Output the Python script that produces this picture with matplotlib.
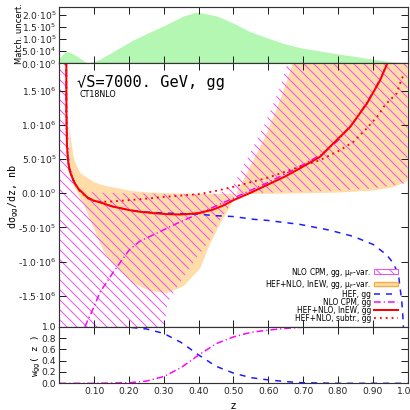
import matplotlib
matplotlib.use('Agg')
import matplotlib.pyplot as plt
from matplotlib.patches import Patch
from matplotlib.lines import Line2D

# ---- data ----
# top panel: matching uncertainty
z_match = [0.0, 0.01, 0.02, 0.03, 0.05, 0.07, 0.08, 0.1, 0.116, 0.15, 0.212, 0.26, 0.308,
           0.356, 0.39, 0.404, 0.452, 0.5, 0.547, 0.595, 0.643, 0.691, 0.787, 0.883, 0.95, 1.0]
match_unc = [2.1e4, 3.8e4, 4.8e4, 4.6e4, 3.0e4, 1.0e4, 0.0, 9e3, 1.7e4, 4.5e4, 9.7e4, 1.3e5, 1.62e5,
             1.97e5, 2.12e5, 2.11e5, 1.97e5, 1.67e5, 1.32e5, 1.07e5, 8.3e4, 6.5e4, 4.2e4, 2.1e4, 7e3, 0.0]

# NLO CPM mu_F variation (hatched band)
z_cpm_band = [0.0, 0.005, 0.01, 0.015, 0.02, 0.025, 0.03, 0.04, 0.06, 0.1, 0.2, 0.29, 0.3, 0.31,
              0.34, 0.4, 0.43, 0.46, 0.5, 0.547, 0.595, 0.634, 0.653, 0.7, 0.8, 0.9, 1.0]
cpm_band_1 = [8e6, 5e6, 3.5e6, 2.6e6, 1.9e6, 1.0e6, 5e5, 2e5, 6e4, 1e4, 0.0, -5e3, -1e4, -1e4,
              -1e4, -1e4, -1e4, 0.0, 1.2e5, 5.8e5, 1.07e6, 1.55e6, 1.87e6, 2.6e6, 4e6, 5.5e6, 7e6]
cpm_band_2 = [-5e6, -5e6, -5e6, -5e6, -5e6, -5e6, -5e6, -5e6, -5e6, -5e6, -4e6, -2.5e6, -2.0e6, -1.6e6,
              -1.35e6, -9e5, -7e5, -4e5, -1e5, 0.0, 1e4, 1.5e4, 2e4, 2.5e4, 4e4, 7e4, 1.5e5]

# HEF+NLO lnEW mu_F variation (orange band)
z_hef_band = [0.028, 0.03, 0.04, 0.045, 0.059, 0.073, 0.083, 0.097, 0.116, 0.131, 0.16, 0.212, 0.26,
              0.308, 0.356, 0.404, 0.432, 0.461, 0.49, 0.5, 0.509, 0.519, 0.557, 0.595, 0.634, 0.667,
              0.7, 0.8, 0.9, 0.96, 1.0]
hef_band_1 = [1.0e6, 9.0e5, 5.5e5, 4.6e5, 3.0e5, 2.5e5, 2.2e5, 1.7e5, 1.3e5, 1.1e5, 8e4, 3e4, 1e4,
              0.0, -5e3, -1e4, -1e4, -1e4, -1e4, -1e4, -1e4, -1e4, -1e4, -8e3, -5e3, -3e3,
              0.0, 1e4, 4e4, 9e4, 1.8e5]
hef_band_2 = [4.0e5, 2.9e5, 1.4e5, 8e4, -6e4, -2e5, -3.2e5, -4.9e5, -7.2e5, -8.8e5, -1.05e6, -1.31e6, -1.43e6,
              -1.46e6, -1.36e6, -1.1e6, -7.5e5, -4.5e5, -2e5, -9e4, 0.0, 1e5, 4.85e5, 8.7e5, 1.36e6, 1.85e6,
              2.4e6, 4e6, 6e6, 7e6, 8e6]

# HEF, gg
z_hef = [0.0195, 0.02, 0.0216, 0.025, 0.03, 0.04, 0.045, 0.055, 0.068, 0.08, 0.097, 0.116, 0.15, 0.2,
         0.236, 0.27, 0.303, 0.337, 0.37, 0.404, 0.442, 0.5, 0.557, 0.595, 0.691, 0.777, 0.844, 0.902,
         0.94, 0.959, 0.974, 0.978, 0.983, 0.986, 0.988, 0.99]
hef = [2.5e6, 1.2e6, 7.0e5, 4.6e5, 3.2e5, 1.9e5, 1.4e5, 6e4, 0.0, -6e4, -1.05e5, -1.3e5, -1.9e5, -2.45e5,
       -2.7e5, -2.8e5, -2.9e5, -2.95e5, -3.0e5, -3.06e5, -3.26e5, -3.4e5, -3.8e5, -3.95e5, -4.55e5, -5.4e5,
       -6.3e5, -7.5e5, -9e5, -1.02e6, -1.19e6, -1.36e6, -1.56e6, -1.75e6, -1.95e6, -2.1e6]

# NLO CPM, gg
z_cpm = [0.073, 0.1, 0.116, 0.155, 0.2, 0.231, 0.289, 0.346, 0.404, 0.452, 0.5, 0.6, 0.69, 0.75,
         0.8, 0.85, 0.883, 0.907, 0.926, 0.945]
cpm = [-1.95e6, -1.65e6, -1.45e6, -1.15e6, -8.3e5, -7e5, -5.6e5, -4.2e5, -2.9e5, -1.8e5, -7e4, 1.6e5,
       3.9e5, 5.6e5, 7.7e5, 1.07e6, 1.33e6, 1.53e6, 1.72e6, 1.95e6]

# HEF+NLO, lnEW, gg
z_lnew = [0.0195, 0.02, 0.0216, 0.025, 0.03, 0.04, 0.045, 0.055, 0.068, 0.08, 0.097, 0.116, 0.15, 0.2,
          0.231, 0.27, 0.308, 0.346, 0.38, 0.404, 0.44, 0.47, 0.5, 0.55, 0.6, 0.65, 0.691, 0.749, 0.787,
          0.835, 0.883, 0.921, 0.942, 0.95]
lnew = [2.5e6, 1.2e6, 7.0e5, 4.6e5, 3.2e5, 1.9e5, 1.4e5, 6e4, 0.0, -6e4, -1.05e5, -1.3e5, -1.9e5, -2.45e5,
        -2.7e5, -2.9e5, -3.05e5, -3.1e5, -3.0e5, -2.85e5, -2.4e5, -1.8e5, -1.0e5, 1e4, 1.3e5, 2.5e5, 3.65e5,
        5.35e5, 7.3e5, 9.7e5, 1.31e6, 1.65e6, 1.9e6, 2.05e6]

# HEF+NLO, subtr., gg
z_subtr = [0.0195, 0.02, 0.0216, 0.025, 0.03, 0.04, 0.045, 0.055, 0.068, 0.08, 0.097, 0.116, 0.15, 0.2,
           0.231, 0.308, 0.404, 0.452, 0.5, 0.6, 0.691, 0.749, 0.806, 0.844, 0.883, 0.916, 0.935, 0.969,
           0.978, 0.99]
subtr = [2.5e6, 1.2e6, 7.0e5, 4.6e5, 3.2e5, 1.9e5, 1.4e5, 5e4, -1e4, -7e4, -1.1e5, -1.25e5, -1.2e5, -1.0e5,
         -8.7e4, -5e4, -1e4, 3.8e4, 9.5e4, 2.3e5, 3.9e5, 4.85e5, 6.3e5, 7.5e5, 9.5e5, 1.14e6, 1.29e6, 1.46e6,
         1.6e6, 1.75e6]

# bottom panel: weights
z_w = [0.0, 0.1, 0.2, 0.25, 0.3, 0.35, 0.4, 0.45, 0.5, 0.55, 0.6, 0.65, 0.7, 0.8, 1.0]
w_hef = [1.0, 1.0, 0.99, 0.96, 0.88, 0.72, 0.5, 0.3, 0.18, 0.1, 0.06, 0.03, 0.01, 0.0, 0.0]
w_cpm = [0.0, 0.0, 0.01, 0.04, 0.12, 0.28, 0.5, 0.7, 0.82, 0.9, 0.94, 0.97, 0.99, 1.0, 1.0]

x_ticks = [0.1, 0.2, 0.3, 0.4, 0.5, 0.6, 0.7, 0.8, 0.9, 1.0]
x_ticklabels = ['0.10', '0.20', '0.30', '0.40', '0.50', '0.60', '0.70', '0.80', '0.90', '1.00']
top_ticks = [0, 5e4, 1e5, 1.5e5, 2e5]
top_ticklabels = ['0.0·10$^{0}$', '5.0·10$^{4}$', '1.0·10$^{5}$', '1.5·10$^{5}$', '2.0·10$^{5}$']
main_ticks = [-1.5e6, -1e6, -5e5, 0, 5e5, 1e6, 1.5e6]
main_ticklabels = ['-1.5·10$^{6}$', '-1.0·10$^{6}$', '-5.0·10$^{5}$', '0.0·10$^{0}$',
                   '5.0·10$^{5}$', '1.0·10$^{6}$', '1.5·10$^{6}$']
w_ticks = [0.0, 0.2, 0.4, 0.6, 0.8, 1.0]
w_ticklabels = ['0.0', '0.2', '0.4', '0.6', '0.8', '1.0']

HATCH = '\\' * 4
plt.rcParams['hatch.linewidth'] = 0.6
plt.rcParams['font.family'] = 'DejaVu Sans'

fig = plt.figure(figsize=(410 / 120, 410 / 120), dpi=120)
ax_top = fig.add_axes([0.145, 0.8456, 0.849, 0.1366])
ax = fig.add_axes([0.145, 0.2032, 0.849, 0.6424])
ax_w = fig.add_axes([0.145, 0.0651, 0.849, 0.1381])

def style(a):
    a.tick_params(direction='in', length=4.2, width=0.6, top=True, right=True,
                  labelsize=5.5, pad=2, colors='#222222')
    for s in a.spines.values():
        s.set_linewidth(0.7)
        s.set_color('#333333')
    a.set_xlim(0, 1)
    a.set_xticks(x_ticks)

blue_ls = (0, (4, 4))
mag_ls = (0, (4.5, 2, 0.8, 2))
dot_ls = (0, (1, 2.2))

# top panel
style(ax_top)
ax_top.fill_between(z_match, 0, match_unc, color='#b3f7b3', lw=0)
ax_top.set_ylim(0, 2.33e5)
ax_top.set_yticks(top_ticks)
ax_top.set_yticklabels(top_ticklabels)
ax_top.set_xticklabels([])

# main panel
style(ax)
ax.fill_between(z_hef_band, hef_band_1, hef_band_2, facecolor='#ffdca8', lw=0)
ax.fill_between(z_cpm_band, cpm_band_1, cpm_band_2, facecolor='none', edgecolor='#f050f0',
                hatch=HATCH, lw=0)
ax.plot(z_hef, hef, color='#1a1aff', lw=0.9, ls=blue_ls)
ax.plot(z_cpm, cpm, color='#ff00ff', lw=0.9, ls=mag_ls)
ax.plot(z_lnew, lnew, color='#ff0000', lw=1.2)
ax.plot(z_subtr, subtr, color='#ff0000', lw=1.1, ls=dot_ls)
ax.set_ylim(-1.95e6, 1.9e6)
ax.set_yticks(main_ticks)
ax.set_yticklabels(main_ticklabels)
ax.set_xticklabels([])
ax.text(0.051, 0.909, '√S=7000. GeV, gg', transform=ax.transAxes, fontsize=9.2,
        family='DejaVu Sans Mono', va='baseline')
ax.text(0.057, 0.873, 'CT18NLO', transform=ax.transAxes, fontsize=4.8, va='baseline')

handles = [
    Patch(facecolor='white', edgecolor='#f050f0', hatch='\\' * 3, lw=0.6),
    Patch(facecolor='#ffdca8', edgecolor='#f5b040', lw=0.8),
    Line2D([], [], color='#1a1aff', lw=0.9, ls=blue_ls),
    Line2D([], [], color='#ff00ff', lw=0.9, ls=mag_ls),
    Line2D([], [], color='#ff0000', lw=1.2),
    Line2D([], [], color='#ff0000', lw=1.1, ls=dot_ls),
]
labels = ['NLO CPM, gg, μ$_{\\mathrm{F}}$-var.', 'HEF+NLO, lnEW, gg, μ$_{\\mathrm{F}}$-var.',
          'HEF, gg', 'NLO CPM, gg', 'HEF+NLO, lnEW, gg', 'HEF+NLO, subtr., gg']
ax.legend(handles, labels, loc='lower right', bbox_to_anchor=(0.972, 0.014), frameon=False,
          fontsize=4.5, markerfirst=False, handlelength=3.2, handleheight=0.6,
          labelspacing=-0.12, borderaxespad=0, handletextpad=0.4, borderpad=0)

# bottom panel
style(ax_w)
ax_w.plot(z_w, w_hef, color='#1a1aff', lw=0.9, ls=blue_ls)
ax_w.plot(z_w, w_cpm, color='#ff00ff', lw=0.9, ls=mag_ls)
ax_w.set_ylim(0, 1)
ax_w.set_yticks(w_ticks)
ax_w.set_yticklabels(w_ticklabels)
ax_w.set_xticklabels(x_ticklabels)
ax_w.set_xlabel('z', fontsize=6, labelpad=3)

# y labels placed at the reference positions (pixels from top-left)
fig.text(19.5 / 410, 1 - 34 / 410, 'Match. uncert.', rotation=90, ha='center', va='center',
         fontsize=5.0)
fig.text(13.5 / 410, 1 - 197 / 410, 'dσ$_{\\mathrm{gg}}$/dz, nb', rotation=90, ha='center',
         va='center', fontsize=6, family='DejaVu Sans Mono')
fig.text(36 / 410, 1 - 356 / 410, 'w$_{\\mathrm{gg}}$( z )', rotation=90, ha='center', va='center',
         fontsize=5.6, family='DejaVu Sans Mono')

fig.savefig('out.png', dpi=120)
